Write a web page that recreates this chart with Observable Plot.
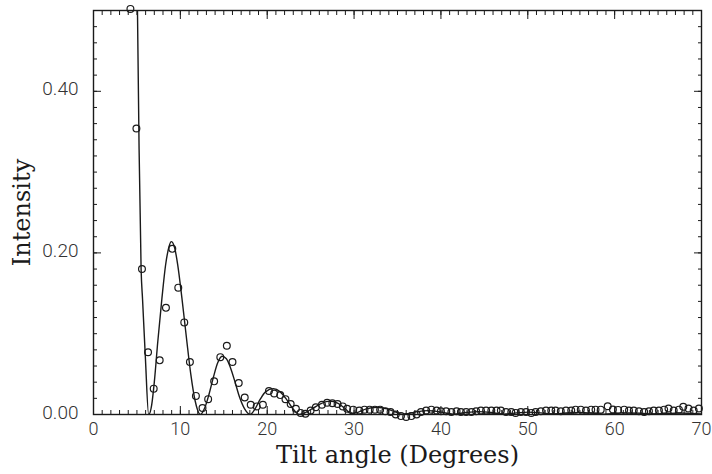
<!DOCTYPE html>
<html>
<head>
<meta charset="utf-8">
<script src="https://cdn.jsdelivr.net/npm/d3@7"></script>
<script src="https://cdn.jsdelivr.net/npm/@observablehq/plot@0.6"></script>
<style>
  html, body { margin: 0; padding: 0; background: #fff; }
  #chart { width: 712px; height: 474px; }
</style>
</head>
<body>
<div id="chart"></div>
<script>
// Measured data points (tilt angle in degrees, intensity)
const pointAngle = [4.25,4.94,5.58,6.28,6.93,7.62,8.34,9.07,9.76,10.45,11.10,11.79,12.55,13.20,13.89,14.60,15.35,16.00,16.72,17.41,18.10,18.79,19.50,20.20,20.80,21.50,22.10,22.70,23.30,23.85,24.40,25.00,25.60,26.30,26.90,27.50,28.10,28.70,29.20,29.90,30.60,31.20,31.80,32.40,33.00,33.60,34.20,34.80,35.40,36.00,36.60,37.20,37.70,38.30,38.90,39.50,40.00,40.60,41.20,41.80,42.30,42.90,43.50,44.05,44.60,45.20,45.80,46.40,46.90,47.50,48.10,48.60,49.20,49.80,50.40,50.90,51.50,52.10,52.70,53.20,53.80,54.40,55.00,55.50,56.10,56.70,57.30,57.80,58.40,59.20,59.80,60.40,61.10,61.65,62.20,62.80,63.40,63.95,64.50,65.10,65.70,66.20,66.80,67.40,67.90,68.50,69.10,69.70];
const pointIntensity = [0.502,0.354,0.180,0.077,0.032,0.067,0.132,0.205,0.157,0.114,0.065,0.023,0.008,0.019,0.041,0.071,0.085,0.065,0.039,0.021,0.012,0.010,0.012,0.029,0.026,0.024,0.019,0.013,0.007,0.002,0.001,0.005,0.009,0.012,0.0145,0.014,0.013,0.010,0.007,0.006,0.005,0.006,0.006,0.006,0.006,0.004,0.003,0.000,-0.002,-0.003,-0.002,0.000,0.003,0.005,0.006,0.005,0.004,0.004,0.003,0.004,0.003,0.003,0.003,0.004,0.005,0.005,0.005,0.005,0.005,0.003,0.003,0.002,0.003,0.003,0.002,0.003,0.004,0.005,0.005,0.005,0.004,0.005,0.005,0.006,0.006,0.005,0.006,0.006,0.006,0.0103,0.0062,0.0057,0.006,0.005,0.005,0.004,0.003,0.004,0.005,0.005,0.006,0.0075,0.005,0.006,0.0095,0.0075,0.005,0.0075];

// Fitted curve
const curveAngle = [5.06,5.25,5.48,5.65,5.97,6.35,6.7,7.0,7.4,7.88,8.3,8.7,8.95,9.3,9.7,10.18,10.7,11.2,11.7,12.3,12.8,13.3,13.8,14.3,14.8,15.3,15.8,16.3,16.8,17.4,18.05,18.6,19.2,19.8,20.7,21.5,22.2,22.9,23.7,24.5,25.3,26.2,27.2,28.1,28.9,29.7,30.5,31.4,32.6,33.8,34.8,35.6,37.0,38.5,40.0,41.4,42.9,44.3,45.8,47.2,48.7,50.1,51.5,53.0,54.4,55.9,57.3,58.8,60.2,61.6,63.1,64.5,66.0,67.4,68.9,70.0];
const curveIntensity = [0.502,0.328,0.180,0.142,0.071,0.0,0.012,0.04,0.09,0.144,0.185,0.208,0.214,0.208,0.185,0.144,0.095,0.05,0.017,0.0,0.008,0.025,0.046,0.064,0.072,0.069,0.057,0.04,0.022,0.007,0.0,0.007,0.019,0.028,0.032,0.028,0.019,0.008,0.0,0.003,0.008,0.0135,0.0165,0.014,0.008,0.001,0.003,0.007,0.009,0.007,0.003,0.0,0.003,0.0048,0.003,0.0005,0.0025,0.0035,0.0025,0.0005,0.002,0.003,0.002,0.0005,0.0018,0.0025,0.0018,0.0005,0.0015,0.002,0.0015,0.0005,0.0012,0.0018,0.0012,0.0005];

// Ticks and labels
const xMinorTicks = d3.range(0, 71, 1);
const xMajorTicks = [0, 10, 20, 30, 40, 50, 60, 70];
const yMinorTicks = d3.range(0, 0.5001, 0.02).map(v => +v.toFixed(2));
const yMajorTicks = [0, 0.2, 0.4];
const xTitle = "Tilt angle (Degrees)";
const yTitle = "Intensity";

const points = pointAngle.map((a, i) => ({angle: a, intensity: pointIntensity[i]}));
const curve = curveAngle.map((a, i) => ({angle: a, intensity: curveIntensity[i]}));

const ink = "#1a1a1a";
const labelFont = "Roboto, 'Liberation Sans', 'DejaVu Sans', sans-serif";
const titleFont = "'DejaVu Serif', 'Liberation Serif', serif";

const chart = Plot.plot({
  width: 712,
  height: 474,
  marginLeft: 93,
  marginRight: 11,
  marginTop: 10,
  marginBottom: 60,
  style: {background: "#fff", color: ink, fontFamily: labelFont},
  x: {domain: [0, 70], label: null},
  y: {domain: [0, 0.5], label: null},
  marks: [
    // inward ticks, all four sides
    Plot.axisX(xMinorTicks, {anchor: "bottom", tickSize: -4, tickFormat: () => "", stroke: ink, label: null}),
    Plot.axisX(xMajorTicks, {anchor: "bottom", tickSize: -8, tickFormat: () => "", stroke: ink, label: null}),
    Plot.axisX(xMinorTicks, {anchor: "top", tickSize: -4, tickFormat: () => "", stroke: ink, label: null}),
    Plot.axisX(xMajorTicks, {anchor: "top", tickSize: -8, tickFormat: () => "", stroke: ink, label: null}),
    Plot.axisY(yMinorTicks, {anchor: "left", tickSize: -4, tickFormat: () => "", stroke: ink, label: null}),
    Plot.axisY(yMajorTicks, {anchor: "left", tickSize: -8, tickFormat: () => "", stroke: ink, label: null}),
    Plot.axisY(yMinorTicks, {anchor: "right", tickSize: -4, tickFormat: () => "", stroke: ink, label: null}),
    Plot.axisY(yMajorTicks, {anchor: "right", tickSize: -8, tickFormat: () => "", stroke: ink, label: null}),
    // tick labels
    Plot.axisX(xMajorTicks, {anchor: "bottom", tickSize: 0, tickPadding: 8, fontSize: 18, fontWeight: 300, fill: "#333", label: null}),
    Plot.axisY(yMajorTicks, {anchor: "left", tickSize: 0, tickPadding: 15, dy: -2, fontSize: 19, fontWeight: 300, fill: "#333", tickFormat: d3.format(".2f"), label: null}),
    Plot.frame({stroke: ink, strokeWidth: 1.4}),
    // fitted curve
    Plot.line(curve, {x: "angle", y: "intensity", curve: "monotone-x", stroke: ink, strokeWidth: 1.4, clip: true}),
    // data points
    Plot.dot(points, {x: "angle", y: "intensity", r: 3.4, stroke: ink, strokeWidth: 1.2, fill: "none"}),
    // titles
    Plot.text([xTitle], {frameAnchor: "bottom", dy: 48, fontSize: 24, fontFamily: titleFont, fill: ink, textAnchor: "middle", ariaLabel: "x-title"}),
    Plot.text([yTitle], {frameAnchor: "left", dx: -71, rotate: -90, fontSize: 24, fontFamily: titleFont, fill: ink, textAnchor: "middle", ariaLabel: "y-title"})
  ]
});

d3.select(chart).selectAll('g[aria-label="x-title"] text').style("letter-spacing", "3px").style("word-spacing", "11px");
d3.select(chart).selectAll('g[aria-label="y-title"] text').style("letter-spacing", "1.2px");
document.getElementById("chart").appendChild(chart);
</script>
</body>
</html>
